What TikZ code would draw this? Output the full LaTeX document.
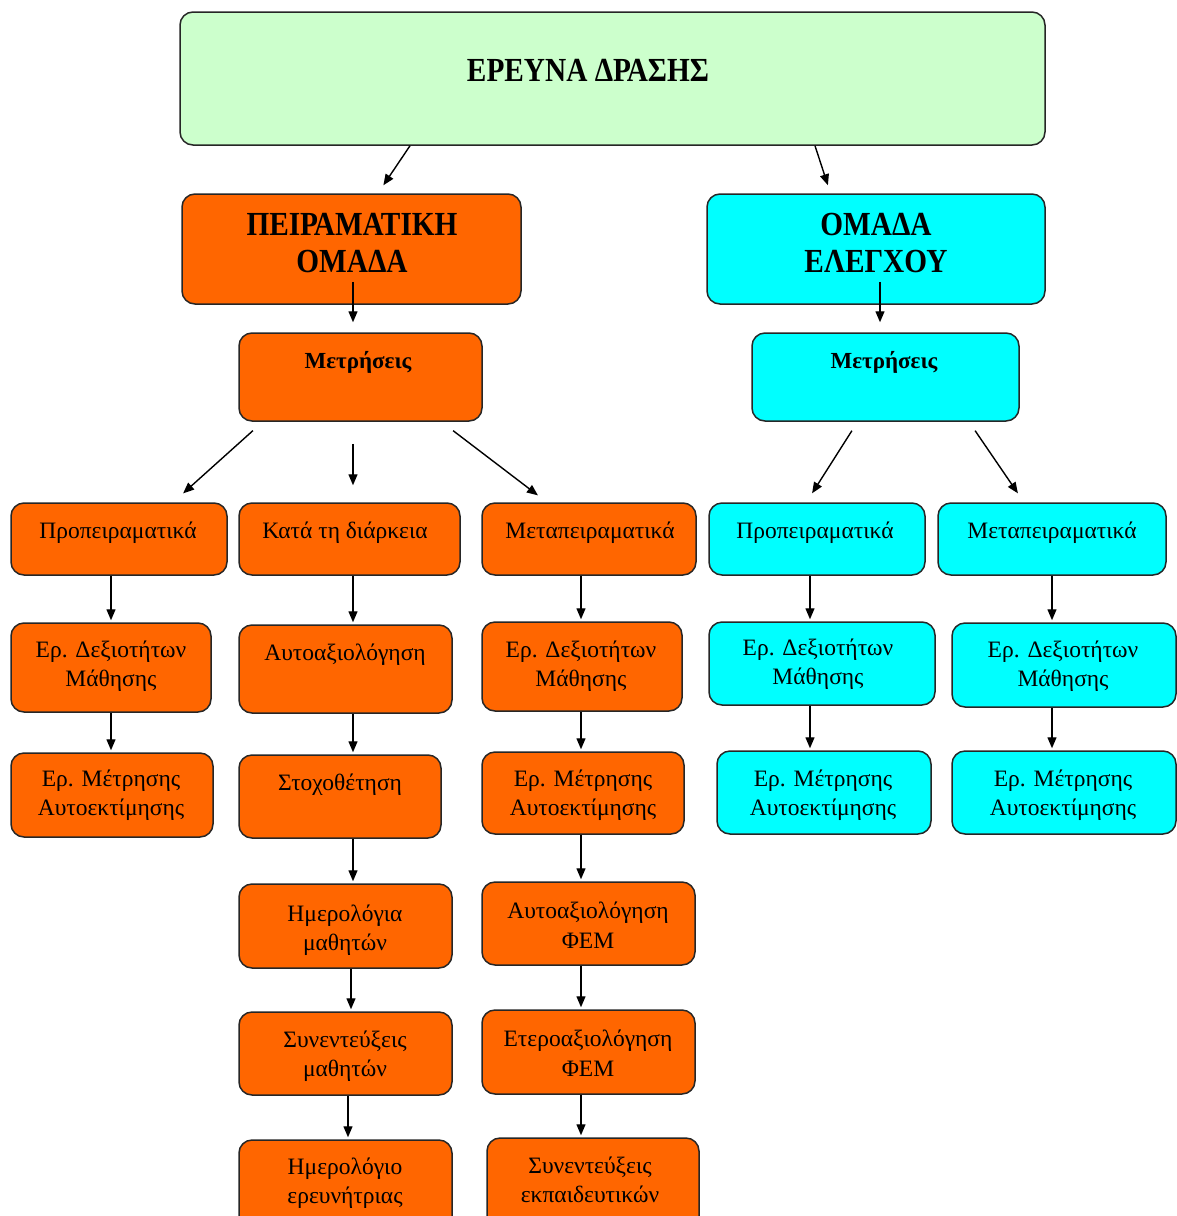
\documentclass[tikz,border=0pt]{standalone}
\usepackage{fontspec}
\setmainfont{Liberation Serif}
\usetikzlibrary{arrows.meta,calc}
\definecolor{cgreen}{HTML}{CCFFCC}
\definecolor{corange}{HTML}{FF6600}
\definecolor{ccyan}{HTML}{00FFFF}
\definecolor{cline}{HTML}{262626}
\newcommand\bx[6]{\node[box,fill=#6,minimum width={#4-#2},minimum height={#5-#3}] (#1) at ({(#2+#4)/2},{(#3+#5)/2}) {};}
\newcommand\bigtxt[1]{\scalebox{1}[1.15]{#1}}
\begin{document}
\begin{tikzpicture}[x=1pt,y=-1pt,
  box/.style={draw=cline, line width=1.5pt, rounded corners=13pt, inner sep=0pt},
  txt/.style={align=center, font=\fontsize{23.5}{29.5}\selectfont, inner sep=0pt},
  head/.style={align=center, font=\fontsize{29.3}{37}\selectfont\bfseries, inner sep=0pt},
  sub/.style={align=center, font=\fontsize{23}{26}\selectfont\bfseries, inner sep=0pt},
  arr/.style={-{Triangle[length=11pt,width=9pt]}, line width=1.4pt, shorten >=2pt}]
\useasboundingbox (0,0) rectangle (1177,1216);
\clip (0,0) rectangle (1177,1216);
% boxes
\bx{top}{180}{12}{1045}{145}{cgreen}
\bx{pe}{182}{194}{521}{304}{corange}
\bx{oe}{707}{194}{1045}{304}{ccyan}
\bx{m1}{239}{333}{482}{421}{corange}
\bx{m2}{752}{333}{1019}{421}{ccyan}
\bx{a1}{11}{503}{227}{575}{corange}
\bx{b1}{239}{503}{460}{575}{corange}
\bx{c1}{482}{503}{696}{575}{corange}
\bx{d1}{709}{503}{925}{575}{ccyan}
\bx{e1}{938}{503}{1166}{575}{ccyan}
\bx{a2}{11}{623}{211}{712}{corange}
\bx{b2}{239}{625}{452}{713}{corange}
\bx{c2}{482}{622}{682}{711}{corange}
\bx{d2}{709}{622}{935}{705}{ccyan}
\bx{e2}{952}{623}{1176}{707}{ccyan}
\bx{a3}{11}{753}{213}{837}{corange}
\bx{b3}{239}{755}{441}{838}{corange}
\bx{c3}{482}{752}{684}{834}{corange}
\bx{d3}{717}{751}{931}{834}{ccyan}
\bx{e3}{952}{751}{1176}{834}{ccyan}
\bx{b4}{239}{884}{452}{968}{corange}
\bx{c4}{482}{882}{695}{965}{corange}
\bx{b5}{239}{1012}{452}{1095}{corange}
\bx{c5}{482}{1010}{695}{1094}{corange}
\bx{b6}{239}{1140}{452}{1240}{corange}
\bx{c6}{487}{1138}{699}{1240}{corange}
% texts
\node[head] (ttop) at (588,70) {\bigtxt{ΕΡΕΥΝΑ ΔΡΑΣΗΣ}};
\node[head] (tpe) at (352,243) {\bigtxt{ΠΕΙΡΑΜΑΤΙΚΗ}\\\bigtxt{ΟΜΑΔΑ}};
\node[head] (toe) at (876,243) {\bigtxt{ΟΜΑΔΑ}\\\bigtxt{ΕΛΕΓΧΟΥ}};
\node[sub] (tm1) at (358,362) {Μετρήσεις};
\node[sub] (tm2) at (884,362) {Μετρήσεις};
\node[txt] (ta1) at (118,533) {Προπειραματικά};
\node[txt] (tb1) at (345,533) {Κατά τη διάρκεια};
\node[txt] (tc1) at (590,533) {Μεταπειραματικά};
\node[txt] (td1) at (815,533) {Προπειραματικά};
\node[txt] (te1) at (1052,533) {Μεταπειραματικά};
\node[txt] (ta2) at (111,666) {Ερ. Δεξιοτήτων\\Μάθησης};
\node[txt] (tb2) at (345,655) {Αυτοαξιολόγηση};
\node[txt] (tc2) at (581,666) {Ερ. Δεξιοτήτων\\Μάθησης};
\node[txt] (td2) at (818,664) {Ερ. Δεξιοτήτων\\Μάθησης};
\node[txt] (te2) at (1063,666) {Ερ. Δεξιοτήτων\\Μάθησης};
\node[txt] (ta3) at (111,795) {Ερ. Μέτρησης\\Αυτοεκτίμησης};
\node[txt] (tb3) at (340,785) {Στοχοθέτηση};
\node[txt] (tc3) at (583,795) {Ερ. Μέτρησης\\Αυτοεκτίμησης};
\node[txt] (td3) at (823,795) {Ερ. Μέτρησης\\Αυτοεκτίμησης};
\node[txt] (te3) at (1063,795) {Ερ. Μέτρησης\\Αυτοεκτίμησης};
\node[txt] (tb4) at (345,930) {Ημερολόγια\\μαθητών};
\node[txt] (tc4) at (588,925) {Αυτοαξιολόγηση\\ΦΕΜ};
\node[txt] (tb5) at (345,1056) {Συνεντεύξεις\\μαθητών};
\node[txt] (tc5) at (588,1053) {Ετεροαξιολόγηση\\ΦΕΜ};
\node[txt] (tb6) at (345,1183) {Ημερολόγιο\\ερευνήτριας};
\node[txt] (tc6) at (590,1180) {Συνεντεύξεις\\εκπαιδευτικών};
% arrow columns
\foreach \n/\v in {k410/410,k378/378,k815/815,k830/830.5,k353/353,k880/880,
  k263/262.8,k173/173.2,k441/441.4,k547/547,k857/857.6,k806/806.4,k969/969,k1024/1024,
  k111/111,k351/351,k348/348,k581/581,k810/810,k1052/1052}
  {\coordinate (\n) at (\v,0);}
% diagonal and top arrows
\draw[arr, shorten >=9.6pt] (top.south -| k410) -- (pe.north -| k378);
\draw[arr, shorten >=8.4pt] (top.south -| k815) -- (oe.north -| k830);
\draw[arr, shorten <=-23pt, shorten >=10pt] (pe.south -| k353) -- (m1.north -| k353);
\draw[arr, shorten <=-23pt, shorten >=10pt] (oe.south -| k880) -- (m2.north -| k880);
\draw[arr, shorten <=13.3pt, shorten >=13.3pt] (m1.south -| k263) -- (a1.north -| k173);
\draw[arr, shorten <=22pt, shorten >=17pt] (m1.south -| k353) -- (b1.north -| k353);
\draw[arr, shorten <=14.7pt, shorten >=11.4pt] (m1.south -| k441) -- (c1.north -| k547);
\draw[arr, shorten <=10.6pt, shorten >=10.6pt] (m2.south -| k857) -- (d1.north -| k806);
\draw[arr, shorten <=10.8pt, shorten >=10.8pt] (m2.south -| k969) -- (e1.north -| k1024);
% vertical chains
\draw[arr] (a1.south -| k111) -- (a2.north -| k111);
\draw[arr] (a2.south -| k111) -- (a3.north -| k111);
\draw[arr] (b1.south -| k353) -- (b2.north -| k353);
\draw[arr] (b2.south -| k353) -- (b3.north -| k353);
\draw[arr] (b3.south -| k353) -- (b4.north -| k353);
\draw[arr] (b4.south -| k351) -- (b5.north -| k351);
\draw[arr] (b5.south -| k348) -- (b6.north -| k348);
\draw[arr] (c1.south -| k581) -- (c2.north -| k581);
\draw[arr] (c2.south -| k581) -- (c3.north -| k581);
\draw[arr] (c3.south -| k581) -- (c4.north -| k581);
\draw[arr] (c4.south -| k581) -- (c5.north -| k581);
\draw[arr] (c5.south -| k581) -- (c6.north -| k581);
\draw[arr] (d1.south -| k810) -- (d2.north -| k810);
\draw[arr] (d2.south -| k810) -- (d3.north -| k810);
\draw[arr] (e1.south -| k1052) -- (e2.north -| k1052);
\draw[arr] (e2.south -| k1052) -- (e3.north -| k1052);
\end{tikzpicture}
\end{document}
